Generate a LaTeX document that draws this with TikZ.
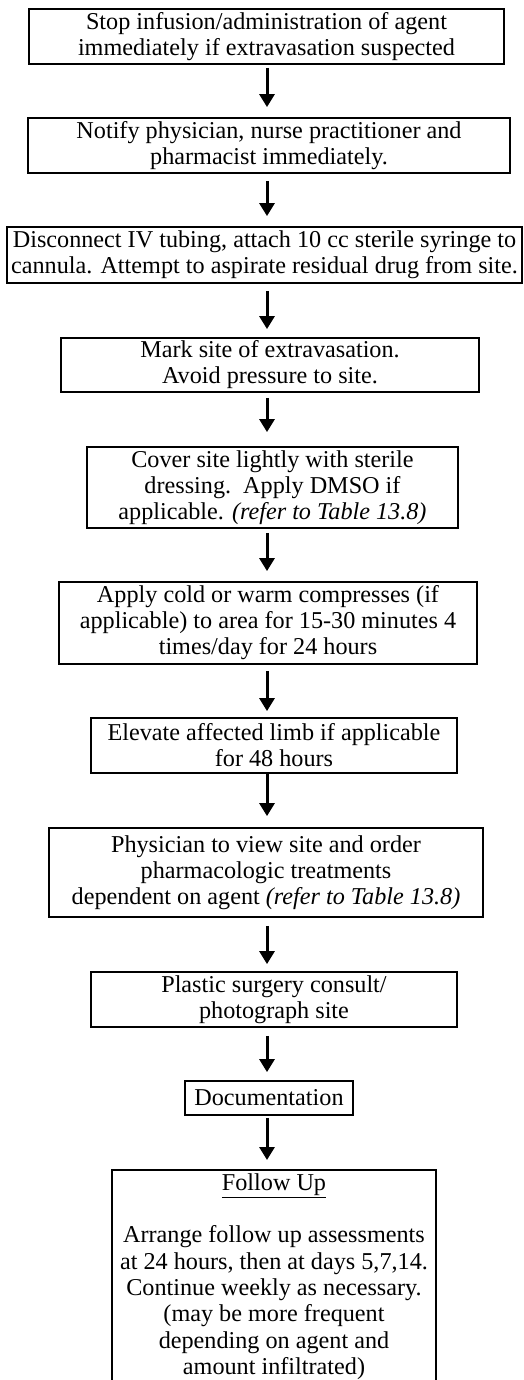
\documentclass[tikz,border=0pt]{standalone}
\usepackage{fontspec}
\setmainfont{Liberation Serif}
\usetikzlibrary{arrows.meta}
\begin{document}
\begin{tikzpicture}[x=1pt,y=-1pt,
  box/.style={draw=black, line width=1.8pt, rectangle, inner sep=0pt, align=center,
    font=\fontsize{24.2}{26}\selectfont},
  txt/.style={inner sep=0pt, align=center, font=\fontsize{24.2}{26.3}\selectfont},
  flow/.style={line width=3pt, -{Triangle[width=15pt,length=13pt]}}]
\useasboundingbox (0,0) rectangle (524,1380);
\fill[white] (0,0) rectangle (524,1380);
\coordinate (ax) at (267,0);

\node[box, minimum width=475, minimum height=55] (b1) at (266.5,36.5)
  {Stop infusion/administration of agent\\immediately if extravasation suspected};
\node[box, minimum width=482, minimum height=55] (b2) at (269,145.5)
  {Notify physician, nurse practitioner and\\pharmacist immediately.};
\node[box, minimum width=515, minimum height=56] (b3) at (264.5,255)
  {Disconnect IV tubing, attach 10 cc sterile syringe to\\cannula. Attempt to aspirate residual drug from site.};
\node[box, minimum width=418, minimum height=54] (b4) at (270,365)
  {Mark site of extravasation.\\Avoid pressure to site.};
\node[box, minimum width=371, minimum height=81] (b5) at (272.5,487.5)
  {Cover site lightly with sterile\\dressing.\ \ Apply DMSO if\\applicable. \textit{(refer to Table 13.8)}};
\node[box, minimum width=418, minimum height=82] (b6) at (268,623)
  {Apply cold or warm compresses (if\\applicable) to area for 15-30 minutes 4\\times/day for 24 hours};
\node[box, minimum width=366, minimum height=55] (b7) at (274,745.5)
  {Elevate affected limb if applicable\\for 48 hours};
\node[box, minimum width=434, minimum height=89] (b8) at (266,872.5)
  {Physician to view site and order\\pharmacologic treatments\\dependent on agent \textit{(refer to Table 13.8)}};
\node[box, minimum width=366, minimum height=55] (b9) at (274,999.5)
  {Plastic surgery consult/\\photograph site};
\node[box, minimum width=168, minimum height=34] (b10) at (269,1098)
  {Documentation};
\node[box, minimum width=324, minimum height=260, anchor=north] (b11) at (274,1169) {};
\node[txt, anchor=north] (b11t) at (274,1173.5)
  {\underline{Follow Up}\\[26pt]Arrange follow up assessments\\at 24 hours, then at days 5,7,14.\\Continue weekly as necessary.\\(may be more frequent\\depending on agent and\\amount infiltrated)};

\draw[flow, shorten <=3pt, shorten >=10pt] (b1.south -| ax) -- (b2.north -| ax);
\draw[flow, shorten <=7pt, shorten >=10pt] (b2.south -| ax) -- (b3.north -| ax);
\draw[flow, shorten <=7pt, shorten >=8pt] (b3.south -| ax) -- (b4.north -| ax);
\draw[flow, shorten <=5pt, shorten >=14pt] (b4.south -| ax) -- (b5.north -| ax);
\draw[flow, shorten <=4pt, shorten >=10pt] (b5.south -| ax) -- (b6.north -| ax);
\draw[flow, shorten <=6pt, shorten >=6pt] (b6.south -| ax) -- (b7.north -| ax);
\draw[flow, shorten <=0pt, shorten >=11pt] (b7.south -| ax) -- (b8.north -| ax);
\draw[flow, shorten <=8pt, shorten >=7pt] (b8.south -| ax) -- (b9.north -| ax);
\draw[flow, shorten <=8pt, shorten >=8pt] (b9.south -| ax) -- (b10.north -| ax);
\draw[flow, shorten <=2pt, shorten >=9pt] (b10.south -| ax) -- (b11.north -| ax);
\end{tikzpicture}
\end{document}
